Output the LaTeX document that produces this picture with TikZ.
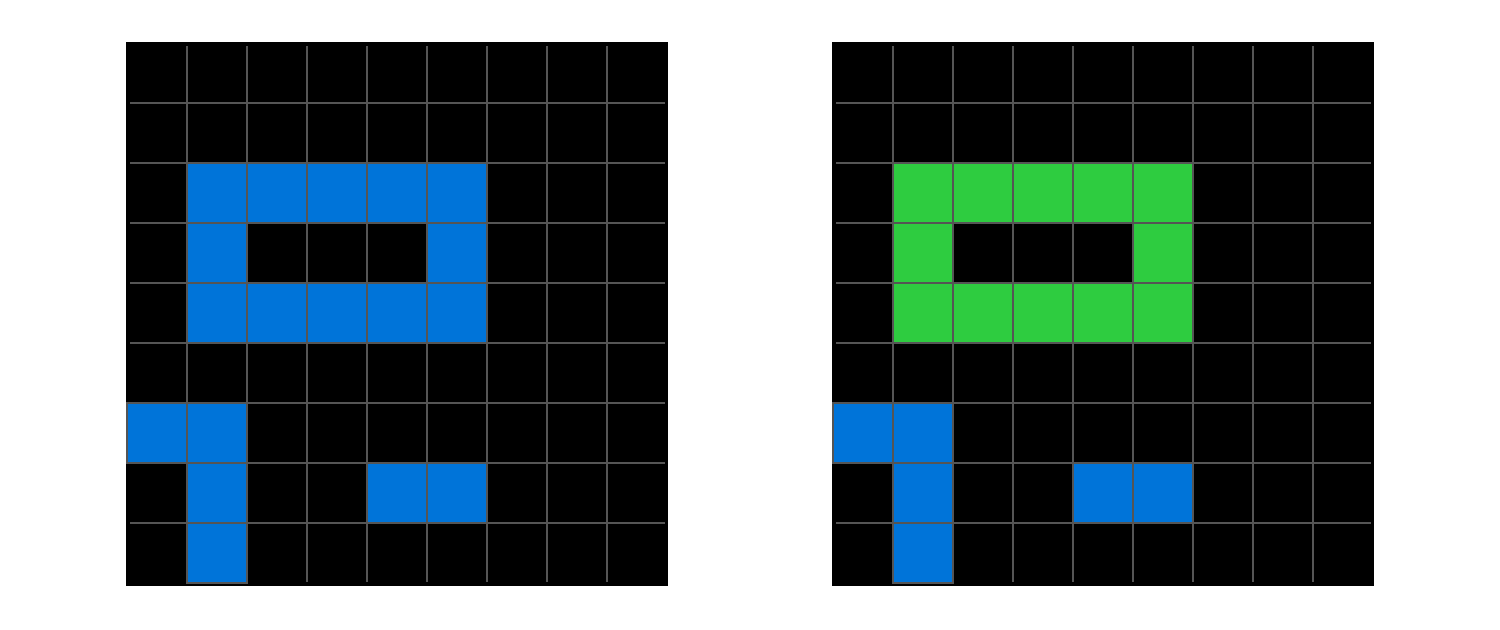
\documentclass[tikz,border=0pt]{standalone}
\usepackage{tikz}
\usepackage{xcolor}

\definecolor{cellblue}{HTML}{0074D9}
\definecolor{cellgreen}{HTML}{2ECC40}
\definecolor{cellgray}{HTML}{555555}

\begin{document}
\begin{tikzpicture}[x=0.5pt,y=-0.5pt,
       gridline/.style={draw=cellgray,line width=1pt},
       bluecell/.style={fill=cellblue,draw=cellgray,line width=1pt},
       greencell/.style={fill=cellgreen,draw=cellgray,line width=1pt}]
    \useasboundingbox (0,0) rectangle (1500,629);
    % left grid: input
    \fill[black] (126,42) rectangle (668,586);
    \foreach \k in {1,...,8} {
      \draw[gridline] (127+60*\k,46) -- (127+60*\k,582);
      \draw[gridline] (130,43+60*\k) -- (665,43+60*\k);
    }
    \foreach \r/\c in {2/1,2/2,2/3,2/4,2/5,3/1,3/5,4/1,4/2,4/3,4/4,4/5,
                       6/0,6/1,7/1,7/4,7/5,8/1}
      \draw[bluecell] (127+60*\c,43+60*\r) rectangle ++(60,60);
    % right grid: output
    \begin{scope}[shift={(706,0)}]
      \fill[black] (126,42) rectangle (668,586);
      \foreach \k in {1,...,8} {
        \draw[gridline] (127+60*\k,46) -- (127+60*\k,582);
        \draw[gridline] (130,43+60*\k) -- (665,43+60*\k);
      }
      \foreach \r/\c in {2/1,2/2,2/3,2/4,2/5,3/1,3/5,4/1,4/2,4/3,4/4,4/5}
        \draw[greencell] (127+60*\c,43+60*\r) rectangle ++(60,60);
      \foreach \r/\c in {6/0,6/1,7/1,7/4,7/5,8/1}
        \draw[bluecell] (127+60*\c,43+60*\r) rectangle ++(60,60);
    \end{scope}
\end{tikzpicture}
\end{document}
